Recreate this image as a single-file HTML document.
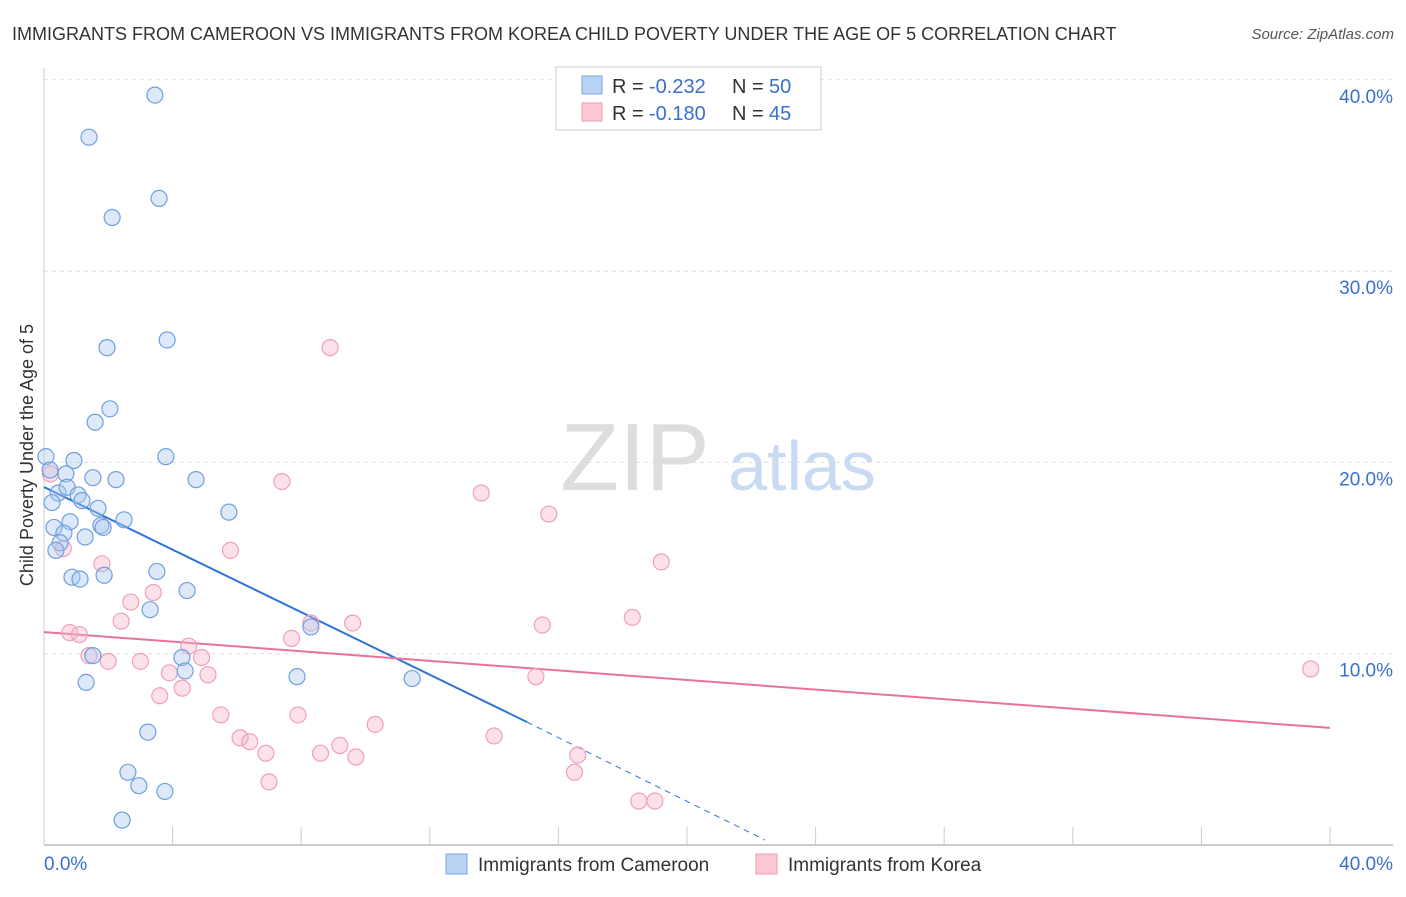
<!DOCTYPE html>
<html><head><meta charset="utf-8"><style>
body{margin:0;background:#fff;font-family:"Liberation Sans",sans-serif;}
svg text{font-family:"Liberation Sans",sans-serif;}
</style></head><body>
<svg id="chart" width="1406" height="892" viewBox="0 0 1406 892" xmlns="http://www.w3.org/2000/svg">
<text x="12" y="40" font-size="18" fill="#333">IMMIGRANTS FROM CAMEROON VS IMMIGRANTS FROM KOREA CHILD POVERTY UNDER THE AGE OF 5 CORRELATION CHART</text>
<text x="1394" y="39" font-size="15" fill="#555" font-style="italic" text-anchor="end">Source: ZipAtlas.com</text>
<text transform="translate(33,455) rotate(-90)" font-size="18" fill="#333" text-anchor="middle">Child Poverty Under the Age of 5</text>
<g>
<text x="635" y="490" font-size="96" font-family="Liberation Serif" fill="#ddd" text-anchor="middle">ZIP</text>
<text x="802" y="490" font-size="70" fill="#c9daf3" text-anchor="middle">atlas</text>
</g>
<g id="grid"></g><g id="axes"></g><g id="trends"></g><g id="points"></g>
<g>
<rect x="556" y="67" width="265" height="63" fill="#fff" stroke="#ccc"/>
<rect x="582" y="76" width="20" height="18" fill="#b9d3f5" stroke="#7aa6e0"/>
<rect x="582" y="103" width="20" height="18" fill="#fcc8d6" stroke="#f09ab3"/>
<text x="612" y="93" font-size="20" fill="#333">R =</text>
<text x="649" y="93" font-size="20" fill="#3a6fd0">-0.232</text>
<text x="732" y="93" font-size="20" fill="#333">N =</text>
<text x="769" y="93" font-size="20" fill="#3a6fd0">50</text>
<text x="612" y="120" font-size="20" fill="#333">R =</text>
<text x="649" y="120" font-size="20" fill="#3a6fd0">-0.180</text>
<text x="732" y="120" font-size="20" fill="#333">N =</text>
<text x="769" y="120" font-size="20" fill="#3a6fd0">45</text>
</g>
<g>
<rect x="446" y="854" width="21" height="20" fill="#b9d3f5" stroke="#7aa6e0"/>
<text x="478" y="871" font-size="19" fill="#333">Immigrants from Cameroon</text>
<rect x="756" y="854" width="21" height="20" fill="#fcc8d6" stroke="#f09ab3"/>
<text x="788" y="871" font-size="19" fill="#333">Immigrants from Korea</text>
</g>
</svg>
<script>
const cameroonX=[3.45,1.40,3.58,2.12,1.96,3.83,2.05,1.59,3.79,0.06,0.93,0.19,0.68,1.52,2.24,4.73,0.44,0.72,1.06,1.18,0.25,1.68,5.75,2.49,0.81,1.77,1.84,0.31,0.62,1.28,0.50,0.37,3.51,0.87,1.12,1.87,4.45,3.30,8.30,1.52,4.29,4.39,1.31,7.87,11.45,3.23,2.61,2.95,3.76,2.43];
const cameroonY=[39.2,37.0,33.8,32.8,26.0,26.4,22.8,22.1,20.3,20.3,20.1,19.6,19.4,19.2,19.1,19.1,18.4,18.7,18.3,18.0,17.9,17.6,17.4,17.0,16.9,16.7,16.6,16.6,16.3,16.1,15.8,15.4,14.3,14.0,13.9,14.1,13.3,12.3,11.4,9.9,9.8,9.1,8.5,8.8,8.7,5.9,3.8,3.1,2.8,1.3];
const koreaX=[8.9,7.4,13.6,15.7,5.8,0.6,19.2,1.8,3.4,2.7,2.4,18.3,15.5,8.3,9.6,0.8,1.1,7.7,4.5,4.9,1.4,2.0,3.0,3.9,5.1,15.3,39.4,4.3,3.6,5.5,7.9,10.3,14.0,6.1,6.4,6.9,8.6,9.2,9.7,16.6,16.5,7.0,18.5,19.0,0.2];
const koreaY=[26.0,19.0,18.4,17.3,15.4,15.5,14.8,14.7,13.2,12.7,11.7,11.9,11.5,11.6,11.6,11.1,11.0,10.8,10.4,9.8,9.9,9.6,9.6,9.0,8.9,8.8,9.2,8.2,7.8,6.8,6.8,6.3,5.7,5.6,5.4,4.8,4.8,5.2,4.6,4.7,3.8,3.3,2.3,2.3,19.4];
const trendCameroonX=[0,15.02,22.43];
const trendCameroonY=[18.71,6.43,0.26];
const trendKoreaX=[0,40];
const trendKoreaY=[11.13,6.12];
const yTicks=[10,20,30,40];
const xTickCount=10;
const NS="http://www.w3.org/2000/svg";
const sx=v=>44+v/40*1286, sy=v=>845-v*19.13;
function mk(tag,attrs,parent){const e=document.createElementNS(NS,tag);for(const k in attrs)e.setAttribute(k,attrs[k]);parent.appendChild(e);return e;}
const grid=document.getElementById('grid'),axes=document.getElementById('axes'),tr=document.getElementById('trends'),pts=document.getElementById('points');
yTicks.forEach(t=>{
 const l=mk('line',{x1:44,x2:1393,y1:sy(t),y2:sy(t),stroke:'#ddd','stroke-dasharray':'4,4'},grid);
 
 
 const tx=mk('text',{x:1393,y:sy(t)+23,'font-size':19,fill:'#3a6fd0','text-anchor':'end'},axes);
 tx.textContent=t.toFixed(1)+'%';
 
 
});
const yl=mk('line',{x1:44,x2:44,y1:68,y2:845,stroke:'#ccc'},axes);


const xl=mk('line',{x1:44,x2:1393,y1:845,y2:845,stroke:'#bbb','stroke-width':1.5},axes);


for(let i=1;i<=xTickCount;i++){const x=sx(i*4);const t=mk('line',{x1:x,x2:x,y1:827,y2:845,stroke:'#ccc'},axes);
 
 }
[[0,'0.0%','start',44],[40,'40.0%','end',1393]].forEach(a=>{const t=mk('text',{x:a[3],y:870,'font-size':19,fill:'#3a6fd0','text-anchor':a[2]},axes);t.textContent=a[1];
 
 });
function dots(X,Y,fill,stroke,name){X.forEach((v,i)=>{const c=mk('circle',{cx:sx(v),cy:sy(Y[i]),r:8,fill:fill,stroke:stroke,'stroke-width':1.2},pts);
 
 });}
dots(koreaX,koreaY,'rgba(248,180,200,0.4)','#f0a0b8','korea-point');
dots(cameroonX,cameroonY,'rgba(170,200,240,0.4)','#6f9fe0','cameroon-point');
const bs=mk('line',{x1:sx(trendCameroonX[0]),y1:sy(trendCameroonY[0]),x2:sx(trendCameroonX[1]),y2:sy(trendCameroonY[1]),stroke:'#2f74d8','stroke-width':2},tr);


const bd=mk('line',{x1:sx(trendCameroonX[1]),y1:sy(trendCameroonY[1]),x2:sx(trendCameroonX[2]),y2:sy(trendCameroonY[2]),stroke:'#2f74d8','stroke-width':1,'stroke-dasharray':'6,5'},tr);


const pk=mk('line',{x1:sx(trendKoreaX[0]),y1:sy(trendKoreaY[0]),x2:sx(trendKoreaX[1]),y2:sy(trendKoreaY[1]),stroke:'#e8729a','stroke-width':2},tr);


</script>
</body></html>
